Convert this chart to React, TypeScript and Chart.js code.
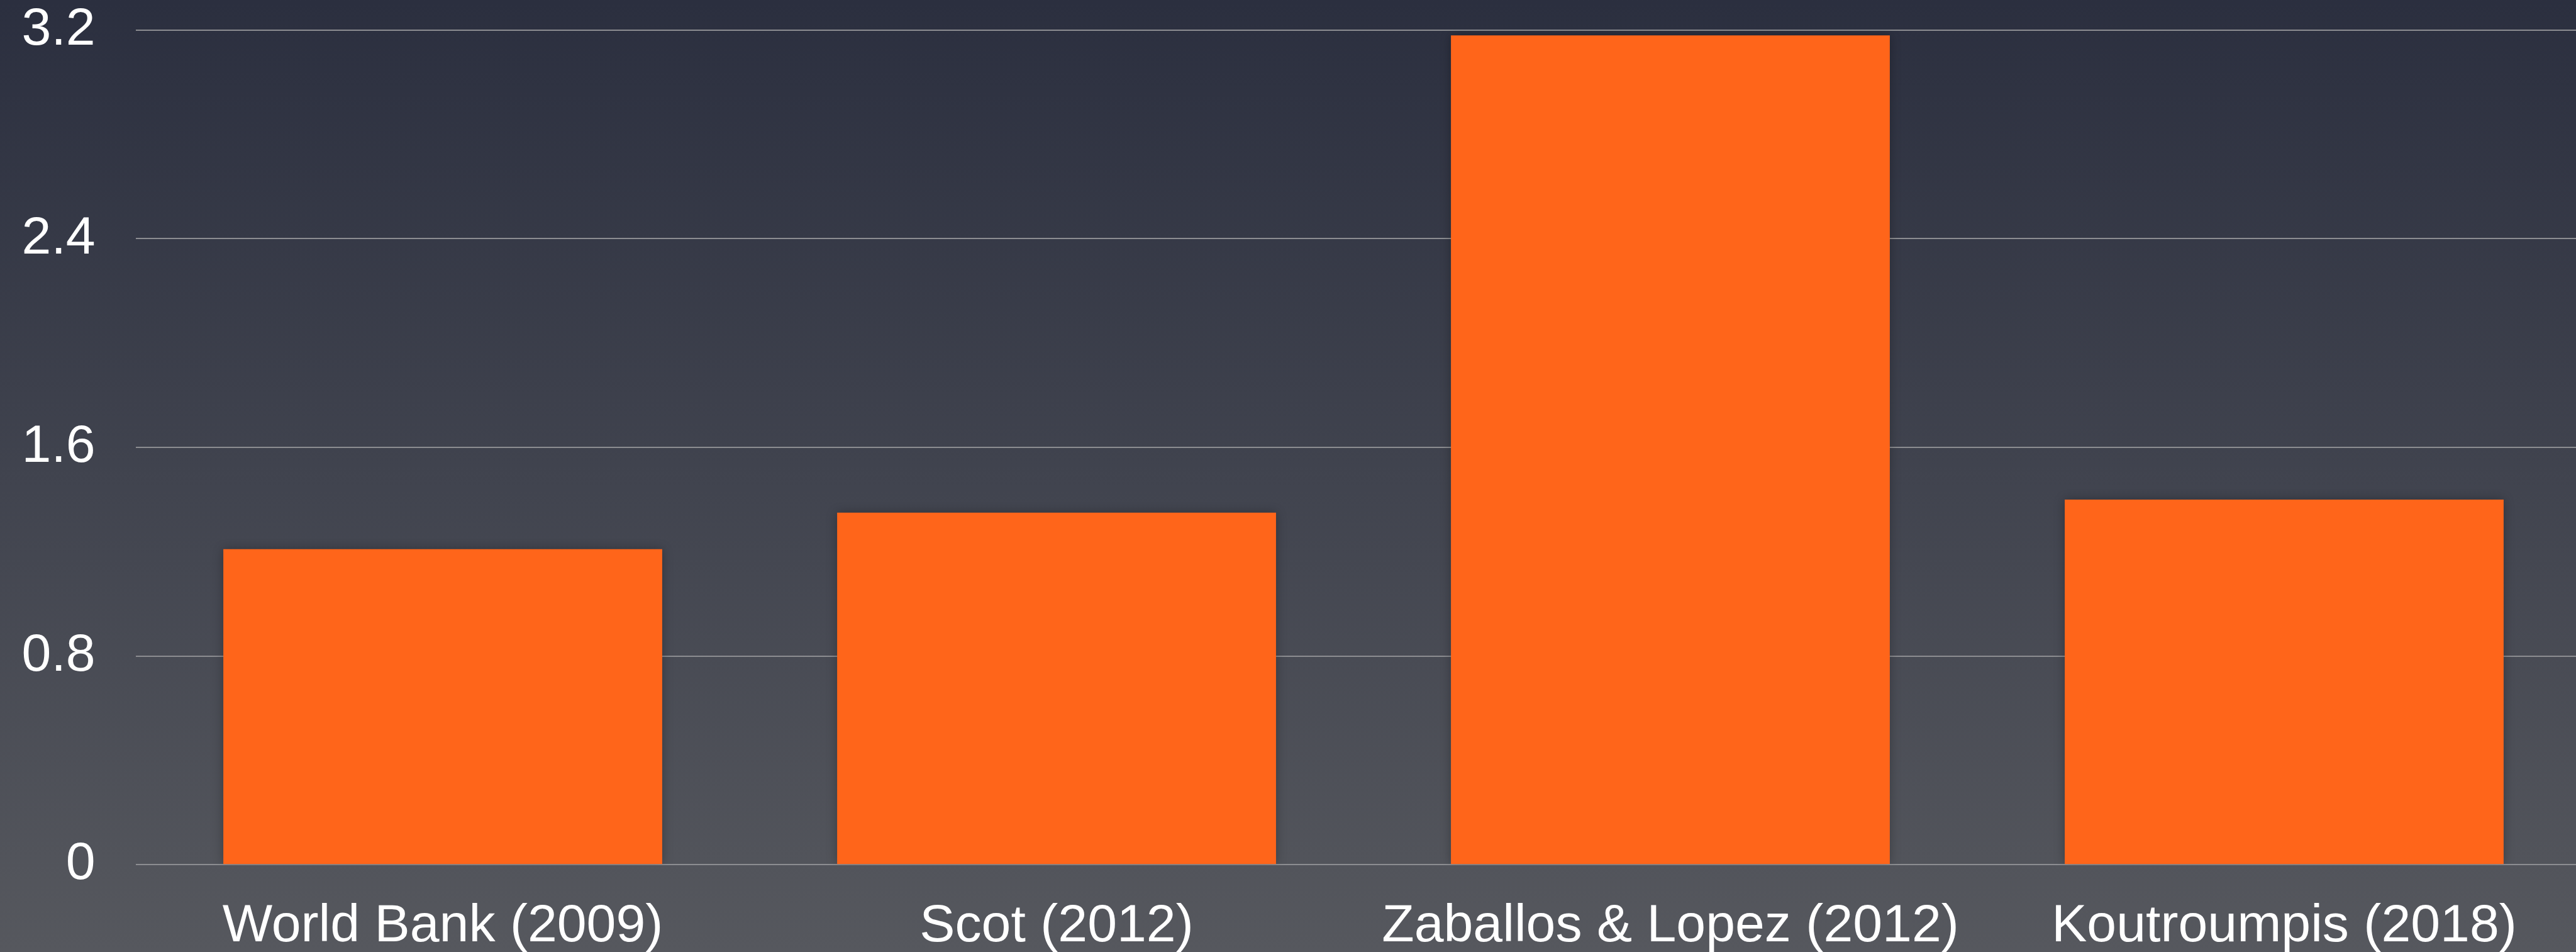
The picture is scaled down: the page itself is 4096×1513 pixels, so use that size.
import React, { useEffect, useRef } from "react";
import { Chart, registerables } from "chart.js";

Chart.register(...registerables);

const S = 0.991;

const categories = ["World Bank (2009)", "Scot (2012)", "Zaballos & Lopez (2012)", "Koutroumpis (2018)"];
const values = [1.21, 1.35, 3.18, 1.4];
const yTicks = [0, 0.8, 1.6, 2.4, 3.2];

const BAR_COLOR = "rgb(255,101,26)";
const GRID_COLOR = "#8c8d91";
const FONT = '"Liberation Sans", Arial, Helvetica, sans-serif';

const shadowPlugin = {
  id: "barShadow",
  beforeDatasetsDraw(chart: any) {
    const ctx = chart.ctx;
    ctx.save();
    ctx.shadowColor = "rgba(0,0,0,0.28)";
    ctx.shadowBlur = 16 * S;
    ctx.shadowOffsetX = 0;
    ctx.shadowOffsetY = 0;
  },
  afterDatasetsDraw(chart: any) {
    chart.ctx.restore();
  },
};

export default function App() {
  const ref = useRef<HTMLCanvasElement | null>(null);

  useEffect(() => {
    document.body.style.margin = "0";
    document.body.style.overflow = "hidden";
    const canvas = ref.current;
    if (!canvas) return;
    const chart = new Chart(canvas, {
      type: "bar",
      data: {
        labels: categories,
        datasets: [
          {
            data: values,
            backgroundColor: BAR_COLOR,
            borderWidth: 0,
            categoryPercentage: 1,
            barPercentage: 0.715,
          },
        ],
      },
      plugins: [shadowPlugin],
      options: {
        animation: false,
        responsive: false,
        devicePixelRatio: 1,
        layout: { padding: { top: 48.3 * S, left: 0, right: 0, bottom: 0 } },
        plugins: { legend: { display: false }, tooltip: { enabled: false } },
        scales: {
          x: {
            grid: { display: false, drawTicks: false },
            border: { display: false },
            ticks: {
              color: "#ffffff",
              font: { family: FONT, size: 85 * S, lineHeight: 1 },
              padding: 57 * S,
              maxRotation: 0,
              autoSkip: false,
            },
            afterFit: (scale: any) => {
              scale.height = (1527 - 1387) * S;
              scale.paddingLeft = 0;
              scale.paddingRight = 0;
            },
          },
          y: {
            min: 0,
            max: 3.2,
            grid: { color: GRID_COLOR, lineWidth: 2, drawTicks: false },
            border: { display: false },
            afterBuildTicks: (scale: any) => {
              scale.ticks = yTicks.map((v) => ({ value: v }));
            },
            ticks: {
              color: "#ffffff",
              font: { family: FONT, size: 85 * S, lineHeight: 1 },
              padding: 65 * S,
              callback: (v: any) => (Number(v) === 0 ? "0" : Number(v).toFixed(1)),
            },
            afterFit: (scale: any) => {
              scale.width = 218 * S;
              scale.paddingTop = 0;
              scale.paddingBottom = 0;
            },
          },
        },
      },
    });
    return () => chart.destroy();
  }, []);

  return (
    <div
      style={{
        width: 4096,
        height: 1513,
        overflow: "hidden",
        background: "linear-gradient(to bottom, rgb(43,47,63) 0%, rgb(86,88,94) 100%)",
      }}
    >
      <canvas ref={ref} width={4120} height={1513} style={{ display: "block" }} />
    </div>
  );
}
